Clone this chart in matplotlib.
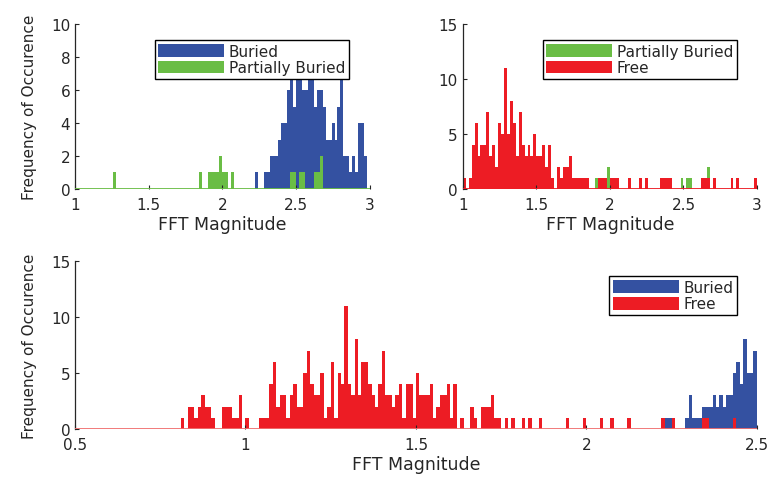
import numpy as np
import matplotlib
matplotlib.use("Agg")
import matplotlib.pyplot as plt

BLUE = "#3451a1"
GREEN = "#6abd45"
RED = "#ed1c24"
TXT = "#262626"

# ---- bottom panel (0.01 wide bins) ----
free_start = 0.80
free_step = 0.01
free_counts = [
    0, 1, 0, 2, 2, 1, 2, 3, 2, 2,   # 0.80
    1, 0, 0, 2, 2, 2, 1, 1, 3, 0,   # 0.90
    1, 0, 0, 0, 1, 1, 1, 4, 6, 2,   # 1.00
    3, 3, 1, 3, 4, 2, 2, 5, 7, 4,   # 1.10
    3, 3, 5, 1, 2, 6, 1, 5, 4, 11,  # 1.20
    4, 3, 8, 3, 6, 6, 4, 3, 2, 4,   # 1.30
    7, 3, 3, 2, 3, 4, 1, 4, 4, 1,   # 1.40
    5, 3, 3, 3, 4, 1, 2, 3, 3, 4,   # 1.50
    1, 4, 0, 1, 0, 0, 2, 1, 0, 2,   # 1.60
    2, 2, 3, 1, 1, 0, 1, 0, 1, 0,   # 1.70
    0, 1, 0, 1, 0, 0, 1, 0, 0, 0,   # 1.80
    0, 0, 0, 0, 1, 0, 0, 0, 0, 1,   # 1.90
    0, 0, 0, 0, 1, 0, 0, 1, 0, 0,   # 2.00
    0, 0, 1, 0, 0, 0, 0, 0, 0, 0,   # 2.10
    0, 0, 1, 0, 0, 1, 0, 0, 0, 0,   # 2.20
    0, 0, 0, 0, 1, 1, 0, 0, 0, 0,   # 2.30
    0, 0, 0, 1, 0, 0, 0, 0, 0, 0,   # 2.40
]
buried_start = 2.20
buried_counts = [
    0, 0, 0, 1, 1, 0, 0, 0, 0, 1,   # 2.20
    3, 1, 1, 1, 2, 2, 2, 3, 2, 3,   # 2.30
    2, 3, 3, 5, 6, 4, 8, 5, 5, 7,   # 2.40
]

# ---- top left panel (0.02 wide bins) ----
tl_step = 0.02
buried_tl_start = 2.22
buried_tl_counts = [1, 0, 0, 1, 1, 2, 2, 2, 3, 4, 4, 6, 7, 5, 8, 7, 6, 6, 7,
                    8, 5, 6, 6, 5, 3, 3, 4, 3, 5, 9, 2, 2, 1, 2, 1, 4, 4, 2]
partial_tl_edges = [1.26, 1.84, 1.90, 1.92, 1.94, 1.96, 1.98, 2.00, 2.02, 2.06,
                    2.46, 2.48, 2.52, 2.54, 2.62, 2.64, 2.66]
partial_tl_counts = [1, 1, 1, 1, 1, 1, 2, 1, 1, 1, 1, 1, 1, 1, 1, 1, 2]

# ---- top right panel (0.02 wide bins) ----
tr_step = 0.02
free_tr_start = 1.00
free_tr_counts = [
    1, 0, 1, 4, 6, 3, 4, 4, 7, 3,   # 1.00
    4, 2, 6, 5, 11, 5, 8, 6, 3, 7,  # 1.20
    4, 3, 4, 3, 5, 3, 3, 4, 2, 4,   # 1.40
    1, 0, 2, 1, 2, 2, 3, 1, 1, 1,   # 1.60
    1, 1, 1, 0, 0, 0, 1, 1, 1, 0,   # 1.80
    1, 1, 1, 0, 0, 0, 1, 0, 0, 0,   # 2.00
    1, 0, 1, 0, 0, 0, 0, 1, 1, 1,   # 2.20
    1, 0, 0, 0, 0, 0, 0, 0, 0, 0,   # 2.40
    0, 1, 1, 1, 0, 1, 0, 0, 0, 0,   # 2.60
    0, 1, 0, 1, 0, 0, 0, 0, 0, 1,   # 2.80
]
partial_tr_edges = [1.90, 1.94, 1.96, 1.98, 2.48, 2.52, 2.54, 2.66]
partial_tr_counts = [1, 1, 1, 2, 1, 1, 1, 2]


def edges_from(start, step, counts):
    return start + step * np.arange(len(counts))


def hist_bars(ax, edges, counts, width, color, label):
    ax.bar(edges, counts, width=width, align="edge", color=color,
           edgecolor="none", linewidth=0, label=label)


def style(ax, xlim, ylim, yticks, xticks, base_color):
    ax.set_xlim(*xlim)
    ax.set_ylim(*ylim)
    ax.set_yticks(yticks)
    ax.set_xticks(xticks)
    ax.set_xticklabels([("%g" % t) for t in xticks])
    for s in ["top", "right", "bottom"]:
        ax.spines[s].set_visible(False)
    ax.spines["left"].set_color(TXT)
    ax.spines["left"].set_linewidth(0.9)
    ax.tick_params(direction="in", length=3, labelsize=11, color=TXT,
                   labelcolor=TXT)
    ax.tick_params(axis="x", pad=6)
    ax.axhline(0, color=base_color, lw=1.3, zorder=3)
    ax.set_xlabel("FFT Magnitude", fontsize=12.5, color=TXT, labelpad=2)


def add_legend(ax, anchor):
    leg = ax.legend(loc="upper right", bbox_to_anchor=anchor, borderaxespad=0,
                    fontsize=11, handlelength=4.3, handleheight=0.9,
                    fancybox=False, framealpha=1, edgecolor="black",
                    borderpad=0.25, labelspacing=0.1, handletextpad=0.3)
    leg.get_frame().set_linewidth(1.0)
    for t in leg.get_texts():
        t.set_color(TXT)


fig = plt.figure(figsize=(7.74, 4.81), dpi=100)
ax_tl = fig.add_axes([0.0969, 0.605, 0.381, 0.343])
ax_tr = fig.add_axes([0.598, 0.605, 0.380, 0.343])
ax_b = fig.add_axes([0.0969, 0.106, 0.881, 0.349])

# top left: buried vs partially buried
hist_bars(ax_tl, edges_from(buried_tl_start, tl_step, buried_tl_counts),
          buried_tl_counts, tl_step, BLUE, "Buried")
hist_bars(ax_tl, partial_tl_edges, partial_tl_counts, tl_step, GREEN,
          "Partially Buried")
style(ax_tl, (1, 3), (0, 10), [0, 2, 4, 6, 8, 10], [1, 1.5, 2, 2.5, 3], GREEN)
ax_tl.set_ylabel("Frequency of Occurence", fontsize=11, color=TXT, labelpad=10)
add_legend(ax_tl, (0.929, 0.903))

# top right: partially buried vs free
hist_bars(ax_tr, partial_tr_edges, partial_tr_counts, tr_step, GREEN,
          "Partially Buried")
hist_bars(ax_tr, edges_from(free_tr_start, tr_step, free_tr_counts),
          free_tr_counts, tr_step, RED, "Free")
style(ax_tr, (1, 3), (0, 15), [0, 5, 10, 15], [1, 1.5, 2, 2.5, 3], RED)
add_legend(ax_tr, (0.932, 0.903))

# bottom: buried vs free
hist_bars(ax_b, edges_from(buried_start, free_step, buried_counts),
          buried_counts, free_step, BLUE, "Buried")
hist_bars(ax_b, edges_from(free_start, free_step, free_counts),
          free_counts, free_step, RED, "Free")
style(ax_b, (0.5, 2.5), (0, 15), [0, 5, 10, 15], [0.5, 1, 1.5, 2, 2.5],
      "#f07070")
ax_b.set_ylabel("Frequency of Occurence", fontsize=11, color=TXT, labelpad=10)
add_legend(ax_b, (0.971, 0.911))

fig.savefig("out.png", dpi=100)
